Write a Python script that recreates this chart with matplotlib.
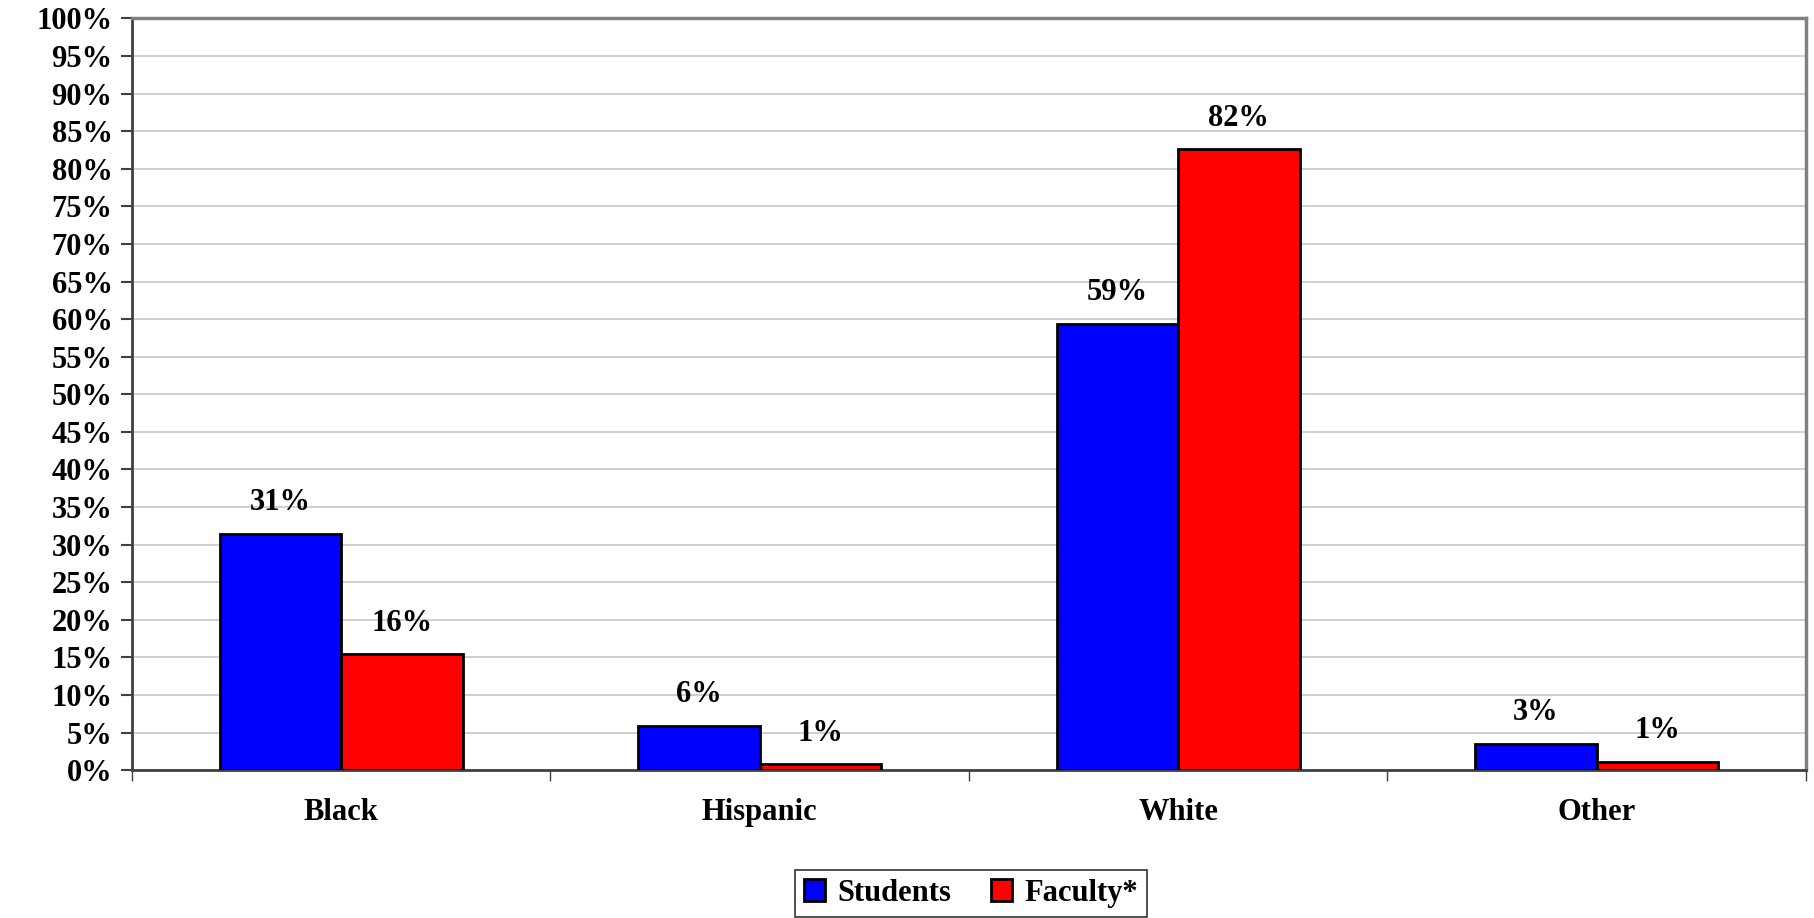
import matplotlib.pyplot as plt
import numpy as np
from matplotlib.ticker import FixedLocator

categories = ["Black", "Hispanic", "White", "Other"]
students = [31.4, 5.9, 59.4, 3.5]
faculty = [15.4, 0.8, 82.6, 1.1]
students_labels = ["31%", "6%", "59%", "3%"]
faculty_labels = ["16%", "1%", "82%", "1%"]
series_names = ["Students", "Faculty*"]

plt.rcParams["font.family"] = ["Liberation Serif", "DejaVu Serif"]
plt.rcParams["font.weight"] = "bold"

FS = 22


def draw_chart():
    fig = plt.figure(figsize=(18.15, 9.18), dpi=100)
    ax = fig.add_axes([0.0727, 0.161, 0.9223, 0.819])

    x = np.arange(len(categories))
    w = 0.29
    b1 = ax.bar(x - w / 2, students, w, color="#0000ff", edgecolor="black",
                linewidth=2, label=series_names[0], zorder=3)
    b2 = ax.bar(x + w / 2, faculty, w, color="#ff0000", edgecolor="black",
                linewidth=2, label=series_names[1], zorder=3)

    for bars, labels in ((b1, students_labels), (b2, faculty_labels)):
        for rect, lab in zip(bars, labels):
            ax.annotate(lab, (rect.get_x() + rect.get_width() / 2, rect.get_height()),
                        xytext=(0, 12), textcoords="offset points",
                        ha="center", va="bottom", fontsize=FS, fontweight="bold")

    ax.set_xlim(-0.5, len(categories) - 0.5)
    ax.set_ylim(0, 100)
    ax.set_yticks(np.arange(0, 101, 5))
    ax.set_yticklabels([f"{v}%" for v in range(0, 101, 5)], fontsize=FS, fontweight="bold")
    ax.yaxis.grid(True, color="#c8c8c8", linewidth=1.2, zorder=0)

    ax.set_xticks(x)
    ax.set_xticklabels(categories, fontsize=FS, fontweight="bold")
    ax.tick_params(axis="x", which="major", length=0, pad=20)
    ax.xaxis.set_minor_locator(FixedLocator(np.arange(-0.5, len(categories), 1.0)))
    ax.tick_params(axis="x", which="minor", length=8, width=1, color="#404040")
    ax.tick_params(axis="y", length=8, width=1.5, color="#404040", pad=6)

    for side in ("top", "right"):
        ax.spines[side].set_color("#808080")
        ax.spines[side].set_linewidth(2.5)
    for side in ("left", "bottom"):
        ax.spines[side].set_color("#404040")
        ax.spines[side].set_linewidth(2)

    leg = fig.legend(handles=[b1, b2], loc="center", bbox_to_anchor=(0.535, 0.027), ncol=2,
                     frameon=True, fancybox=False, edgecolor="black",
                     fontsize=FS, handlelength=0.7, handleheight=0.7,
                     handletextpad=0.4, columnspacing=1.3, borderpad=0.3,
                     borderaxespad=0.2)
    leg.get_frame().set_linewidth(1.2)

    fig.savefig("out.png", dpi=100)


if __name__ == "__main__":
    draw_chart()
